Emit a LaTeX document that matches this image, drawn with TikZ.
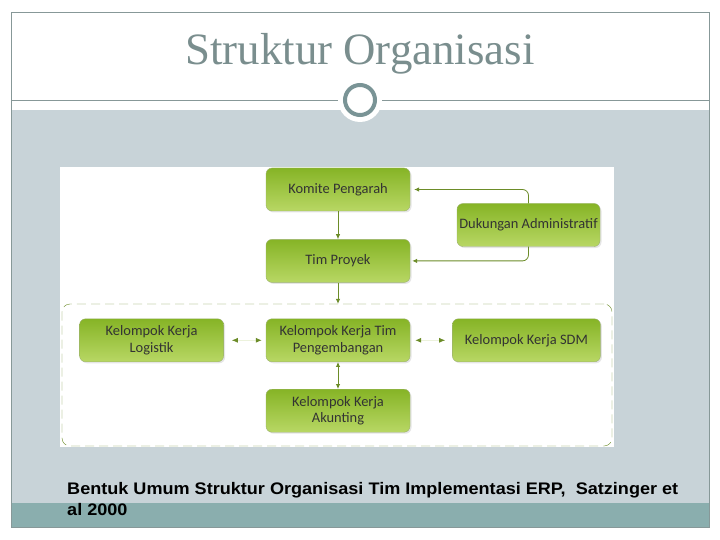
\documentclass[tikz,border=0pt]{standalone}
\usepackage{fontspec}
\setmainfont{Liberation Serif}
\newfontfamily\boxfont{Carlito}
\newfontfamily\capfont{Liberation Sans}[FakeStretch=1.08]
\usetikzlibrary{arrows.meta,positioning,shadows}
\definecolor{slate}{RGB}{200,211,216}
\definecolor{tealband}{RGB}{138,174,174}
\definecolor{framegray}{RGB}{135,152,152}
\definecolor{titlegray}{RGB}{122,142,142}
\definecolor{ringgray}{RGB}{122,148,150}
\definecolor{leafdark}{RGB}{134,180,38}
\definecolor{leafpale}{RGB}{184,215,100}
\definecolor{olive}{RGB}{108,140,40}
\definecolor{olivepale}{RGB}{236,242,220}
\begin{document}
\begin{tikzpicture}[x=1bp,y=-1bp,>=Latex,
  orgbox/.style={draw=leafdark!60!gray!80,rounded corners=6bp,top color=leafdark,bottom color=leafpale,
    minimum width=144bp,minimum height=43bp,align=center,inner sep=2bp,text=black!80,
    font=\boxfont\fontsize{14.5}{16.5}\selectfont,
    drop shadow={opacity=0.2,shadow xshift=1.5bp,shadow yshift=-1.5bp}},
  link/.style={olive,line width=0.8bp,-{Latex[length=5bp,width=4.5bp]}},
  twoway/.style={olivepale,line width=0.8bp,
    {Latex[length=6bp,width=5bp,color=olive]}-{Latex[length=6bp,width=5bp,color=olive]}}]
  % slide background
  \fill[white] (0,0) rectangle (720,540);
  \fill[slate] (11,110) rectangle (709,503);
  \fill[tealband] (11,503) rectangle (709,527);
  \draw[framegray] (11,12) rectangle (709,527);
  \draw[framegray] (11,100) -- (709,100);
  \fill[white] (360,100) circle (22);
  \draw[ringgray,line width=4bp] (360,100) circle (15);
  \node[text=titlegray,font=\fontsize{45}{50}\selectfont] (judul) at (360,54) {Struktur Organisasi};
  % picture panel
  \fill[white] (60,167) rectangle (614,447);
  \node[draw=olive,dashed,dash pattern=on 9bp off 5bp,rounded corners=8bp,
    minimum width=550bp,minimum height=142bp] (grup) at (337,375) {};
  % boxes
  \node[orgbox] (komite) at (338,189.5) {Komite Pengarah};
  \node[orgbox,below=28bp of komite] (tim) {Tim Proyek};
  \node[orgbox,minimum width=143bp] (dukung) at (528.5,225) {Dukungan Administratif};
  \node[orgbox,below=36bp of tim] (kembang) {Kelompok Kerja Tim\\Pengembangan};
  \node[orgbox,left=42bp of kembang] (logistik) {Kelompok Kerja\\Logistik};
  \node[orgbox,right=42bp of kembang,minimum width=148bp] (sdm) {Kelompok Kerja SDM};
  \node[orgbox,below=27bp of kembang] (akunting) {Kelompok Kerja\\Akunting};
  % connectors
  \draw[link] (komite) -- (tim);
  \draw[link] (tim.south) -- (tim.south |- grup.north);
  \draw[link,rounded corners=6bp,shorten >=4bp] (dukung.north) |- (komite.east);
  \draw[link,rounded corners=6bp,shorten >=2bp] (dukung.south) |- (tim.east);
  \draw[twoway,shorten <=4bp,shorten >=8bp] (kembang.west) -- (logistik.east);
  \draw[twoway,shorten <=5bp,shorten >=7bp] (kembang.east) -- (sdm.west);
  \draw[olive,line width=0.8bp,{Latex[length=5bp,width=4.5bp]}-{Latex[length=5bp,width=4.5bp]}] (kembang) -- (akunting);
  % caption
  \node[anchor=north west,inner sep=0pt,align=left,font=\capfont\bfseries\fontsize{16.8}{21}\selectfont] (sumber) at (67,482)
    {Bentuk Umum Struktur Organisasi Tim Implementasi ERP,\ \ Satzinger et\\al 2000};
\end{tikzpicture}
\end{document}
